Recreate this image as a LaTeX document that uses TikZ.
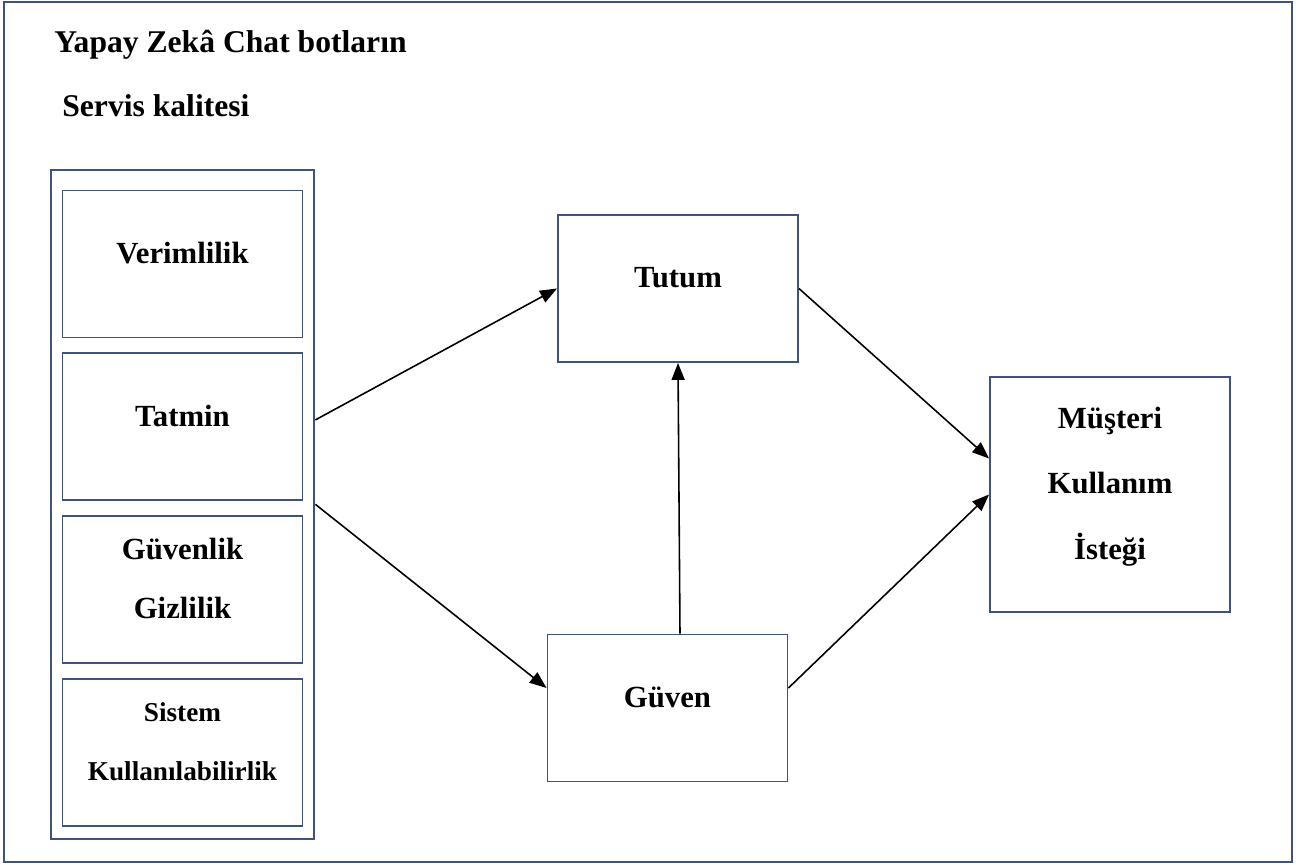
\documentclass[tikz,border=0pt]{standalone}
\usepackage{fontspec}
\setmainfont{Liberation Serif}
\usetikzlibrary{arrows.meta, positioning, fit}
\definecolor{boxnavy}{RGB}{62, 82, 122}

\begin{document}
\begin{tikzpicture}[
    x=0.02cm, y=-0.02cm,
    node distance=0.28cm,
    every node/.style={font=\bfseries\fontsize{17.5}{37.5}\selectfont},
    block/.style={rectangle, draw=boxnavy, line width=1.1pt, minimum width=4.8cm, minimum height=2.94cm, align=center, text depth=0.45cm},
    heading/.style={anchor=west, inner sep=0pt, font=\bfseries\fontsize{18}{22}\selectfont},
    arrow/.style={-{Triangle[length=3.4mm, width=2.6mm]}, line width=0.9pt}
]
\useasboundingbox (0,0) rectangle (1308,865);
\draw[boxnavy, line width=1.1pt] (4,2) rectangle (1292,862);
\node[heading] (head) at (54,45) {Yapay Zekâ Chat botların};
\node[heading] (sub) at (62,106) {Servis kalitesi};
% service quality column
\node[block] (verim) at (182.5,264) {Verimlilik};
\node[block, below=of verim] (tatmin) {Tatmin};
\node[block, below=of tatmin, font=\bfseries\fontsize{17.5}{33.5}\selectfont] (guvenlik) {Güvenlik\\Gizlilik};
\node[block, below=of guvenlik, font=\bfseries\fontsize{15.5}{33.5}\selectfont] (sistem) {Sistem\\Kullanılabilirlik};
\node[draw=boxnavy, line width=1.1pt, fit=(verim)(sistem), inner xsep=0.22cm, inner ysep=0.32cm, yshift=0.08cm] (quality) {};
% model
\node[block] (tutum) at (678,288.5) {Tutum};
\node[block] (guven) at (667.5,708) {Güven};
\node[block, minimum height=4.7cm] (musteri) at (1110,494.5) {Müşteri\\Kullanım\\İsteği};
\draw[arrow] ([yshift=0.14cm]tatmin.east -| quality.east) -- (tutum.west);
\draw[arrow] (quality.east) -- ([yshift=0.4cm]guven.west);
\draw[arrow] ([xshift=0.25cm]guven.north) -- (tutum.south);
\draw[arrow] (tutum.east) -- ([yshift=0.72cm]musteri.west);
\draw[arrow] ([yshift=0.4cm]guven.east) -- (musteri.west);
\end{tikzpicture}
\end{document}
